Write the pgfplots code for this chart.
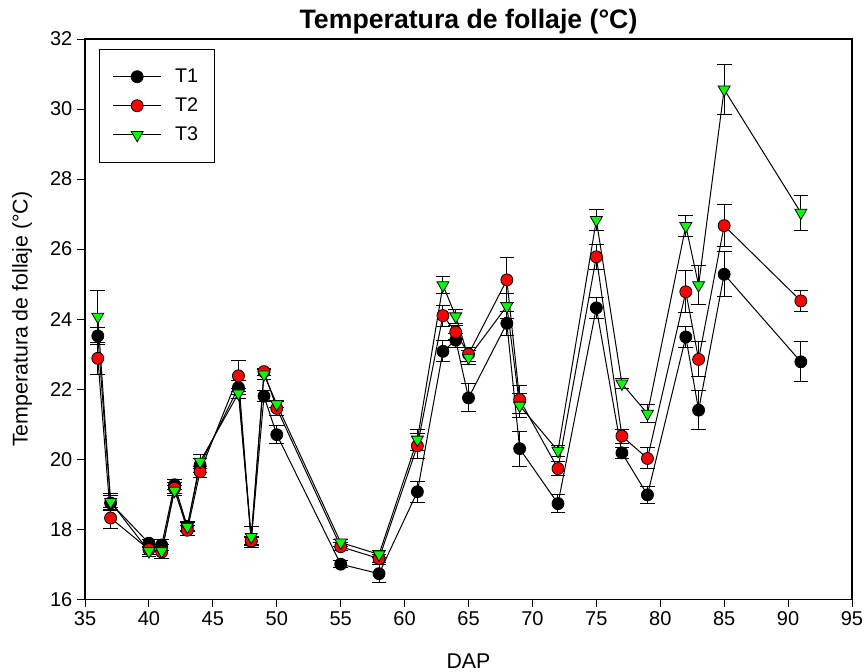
\documentclass[border=0pt]{standalone}
\usepackage{fontspec}
\setmainfont{Liberation Sans}
\usepackage{pgfplots}
\usepackage{pgfplotstable}
\pgfplotsset{compat=1.18}

% x, T1 +- e1, T2 +- e2, T3 +- e3
\pgfplotstableread{
x  t1    e1   t2    e2   t3    e3
36 23.52 0.25 22.88 0.45 24.07 0.75
37 18.75 0.20 18.32 0.30 18.78 0.25
40 17.60 0.12 17.42 0.15 17.37 0.15
41 17.55 0.15 17.35 0.20 17.37 0.20
42 19.27 0.15 19.17 0.15 19.10 0.15
43 18.08 0.15 17.97 0.15 18.07 0.12
44 19.83 0.20 19.64 0.15 19.93 0.20
47 22.05 0.20 22.38 0.45 21.88 0.15
48 17.65 0.12 17.67 0.12 17.78 0.30
49 21.80 0.15 22.50 0.10 22.42 0.15
50 20.70 0.25 21.45 0.20 21.57 0.10
55 17.00 0.10 17.50 0.12 17.62 0.10
58 16.73 0.25 17.16 0.12 17.28 0.10
61 19.07 0.30 20.38 0.35 20.56 0.30
63 23.08 0.30 24.10 0.30 24.97 0.25
64 23.40 0.20 23.63 0.20 24.08 0.20
65 21.75 0.40 23.00 0.20 22.90 0.20
68 23.88 0.35 25.12 0.65 24.37 0.35
69 20.30 0.50 21.70 0.40 21.53 0.35
72 18.73 0.25 19.73 0.20 20.24 0.15
75 24.32 0.30 25.78 0.35 26.83 0.30
77 20.18 0.15 20.66 0.20 22.16 0.15
79 18.98 0.25 20.02 0.30 21.30 0.25
82 23.49 0.30 24.78 0.60 26.66 0.30
83 21.40 0.55 22.85 0.50 24.97 0.55
85 25.28 0.64 26.67 0.60 30.56 0.72
91 22.78 0.57 24.52 0.29 27.04 0.50
}\datatable

\begin{document}
\begin{tikzpicture}
\begin{axis}[
    scale only axis,
    width=575pt,
    height=420pt,
    xmin=35, xmax=95,
    ymin=16, ymax=32,
    xtick={35,40,...,95},
    ytick={16,18,...,32},
    tick align=outside,
    tick pos=left,
    major tick length=6pt,
    axis line style={line width=0.9pt, draw=black},
    tick style={line width=0.75pt, black},
    ticklabel style={font=\fontsize{15}{18}\selectfont},
    /pgf/number format/assume math mode=true,
    title={\textbf{Temperatura de follaje (°C)}},
    title style={font=\fontsize{20}{24}\selectfont,
        at={(axis description cs:0.5,1.017)}, anchor=center},
    xlabel={DAP},
    ylabel={Temperatura de follaje (°C)},
    label style={font=\fontsize{16}{19}\selectfont},
    xlabel style={at={(axis description cs:0.5,-0.11)}, anchor=center},
    ylabel style={at={(axis description cs:-0.082,0.5)}, anchor=center},
    legend style={at={(axis description cs:0.018,0.982)}, anchor=north west,
        draw=black, line width=0.75pt, font=\fontsize{14.8}{17}\selectfont,
        nodes={inner sep=2pt}, row sep=6pt, column sep=8pt,
        inner xsep=10pt, inner ysep=12.5pt},
    legend cell align=left,
    legend image code/.code={
        \draw[mark repeat=2, mark phase=2, #1]
            plot coordinates {(0pt,0pt) (18pt,0pt) (36pt,0pt)};
    },
    error bars/y dir=both,
    error bars/y explicit,
    error bars/error bar style={line width=0.75pt, black},
    error bars/error mark options={rotate=90, mark size=5.5pt, line width=0.75pt, black},
]
\addplot[black, line width=0.75pt, mark=*, mark size=4.5pt,
    mark options={fill=black, draw=black, line width=0.6pt}]
    table[x=x, y=t1, y error=e1] {\datatable};
\addlegendentry{T1\hspace{12pt}}
\addplot[black, line width=0.75pt, mark=*, mark size=4.5pt,
    mark options={fill=red, draw=black, line width=0.6pt}]
    table[x=x, y=t2, y error=e2] {\datatable};
\addlegendentry{T2\hspace{12pt}}
\addplot[black, line width=0.75pt, mark=triangle*, mark size=5.2pt,
    mark options={fill=green, draw=black, line width=0.6pt, rotate=180}]
    table[x=x, y=t3, y error=e3] {\datatable};
\addlegendentry{T3\hspace{12pt}}
\end{axis}
\path (current axis.south west) ++(-63.75pt,-54pt) coordinate (bl);
\path (current axis.north east) ++(9pt,29.25pt) coordinate (tr);
\pgfresetboundingbox
\path (bl) rectangle (tr);
\end{tikzpicture}
\end{document}
